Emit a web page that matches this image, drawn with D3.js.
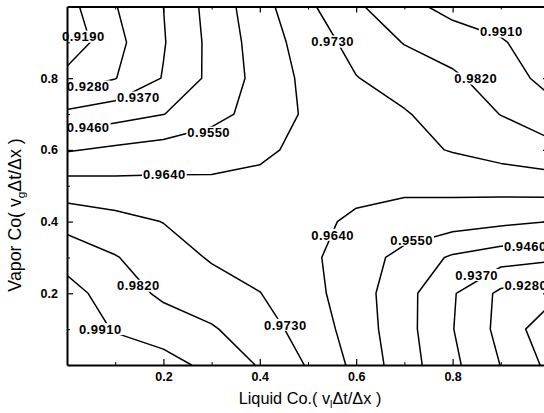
<!DOCTYPE html>
<html>
<head>
<meta charset="utf-8">
<script src="https://cdn.jsdelivr.net/npm/d3@7"></script>
<style>
  body { margin: 0; background: #fff; }
  svg { display: block; }
  text { font-family: "Liberation Sans", Arial, sans-serif; }
</style>
</head>
<body>
<svg id="chart" width="544" height="413"></svg>
<script>
// Grid of Courant numbers: liquid (columns) and vapor (rows, top to bottom)
const liquidCo = [0.0, 0.1, 0.2, 0.3, 0.4, 0.5, 0.6, 0.7, 0.8, 0.9, 1.0];
const vaporCo  = [1.0, 0.9, 0.8, 0.7, 0.6, 0.5, 0.4, 0.3, 0.2, 0.1, 0.0];

// Field value at each (vapor row, liquid column)
const rowV100 = [0.9160, 0.9276, 0.9370, 0.9493, 0.9606, 0.9714, 0.9807, 0.9882, 0.9940, 0.9970, 0.9990];
const rowV090 = [0.9130, 0.9254, 0.9364, 0.9484, 0.9590, 0.9681, 0.9761, 0.9824, 0.9862, 0.9900, 0.9970];
const rowV080 = [0.9220, 0.9277, 0.9375, 0.9482, 0.9580, 0.9663, 0.9727, 0.9768, 0.9805, 0.9863, 0.9940];
const rowV070 = [0.9392, 0.9425, 0.9458, 0.9517, 0.9588, 0.9653, 0.9688, 0.9723, 0.9771, 0.9822, 0.9873];
const rowV060 = [0.9543, 0.9567, 0.9588, 0.9609, 0.9630, 0.9654, 0.9680, 0.9706, 0.9735, 0.9765, 0.9793];
const rowV050 = [0.9676, 0.9667, 0.9663, 0.9654, 0.9654, 0.9660, 0.9655, 0.9654, 0.9664, 0.9672, 0.9682];
const rowV040 = [0.9789, 0.9758, 0.9728, 0.9703, 0.9679, 0.9654, 0.9631, 0.9611, 0.9590, 0.9569, 0.9550];
const rowV030 = [0.9875, 0.9825, 0.9771, 0.9722, 0.9689, 0.9656, 0.9600, 0.9518, 0.9448, 0.9410, 0.9389];
const rowV020 = [0.9945, 0.9865, 0.9804, 0.9768, 0.9732, 0.9670, 0.9591, 0.9491, 0.9379, 0.9260, 0.9224];
const rowV010 = [0.9970, 0.9903, 0.9866, 0.9829, 0.9769, 0.9693, 0.9600, 0.9492, 0.9373, 0.9254, 0.9130];
const rowV000 = [0.9990, 0.9970, 0.9945, 0.9885, 0.9813, 0.9723, 0.9617, 0.9501, 0.9390, 0.9278, 0.9170];
const field = [rowV100, rowV090, rowV080, rowV070, rowV060, rowV050,
               rowV040, rowV030, rowV020, rowV010, rowV000];

// Contour levels
const levels = [0.919, 0.928, 0.937, 0.946, 0.955, 0.964, 0.973, 0.982, 0.991];

// Inline contour labels: level index and (liquid, vapor) anchor
const labelLevel = [0, 1, 2, 3, 4, 5, 6, 7, 8, 7, 8, 5, 4, 3, 2, 1, 6];
const labelLiquid = [0.034, 0.044, 0.148, 0.044, 0.294, 0.202, 0.551, 0.848, 0.901,
                     0.148, 0.069, 0.551, 0.715, 0.951, 0.850, 0.952, 0.453];
const labelVapor  = [0.916, 0.777, 0.746, 0.662, 0.648, 0.531, 0.902, 0.799, 0.930,
                     0.221, 0.100, 0.363, 0.349, 0.332, 0.251, 0.223, 0.112];

// Axis ticks
const majorTicks = [0.2, 0.4, 0.6, 0.8];
const minorTicks = [0.1, 0.3, 0.5, 0.7, 0.9];

const svg = d3.select("#chart");
const x = d3.scaleLinear().domain([0, 1]).range([67, 549]);
const y = d3.scaleLinear().domain([0, 1]).range([365, 6.5]);

svg.append("defs").append("clipPath").attr("id", "plotArea")
  .append("rect")
  .attr("x", x(0)).attr("y", y(1))
  .attr("width", x(1) - x(0)).attr("height", y(0) - y(1));

// Contour geometry on the grid, mapped back to Courant-number space
const nx = liquidCo.length, ny = vaporCo.length;
const gx = d3.scaleLinear().domain([0.5, nx - 0.5]).range([liquidCo[0], liquidCo[nx - 1]]);
const gy = d3.scaleLinear().domain([0.5, ny - 0.5]).range([vaporCo[0], vaporCo[ny - 1]]);
const contours = d3.contours().size([nx, ny]).thresholds(levels)(field.flat());
const toScreen = d3.geoTransform({
  point(px, py) { this.stream.point(x(gx(px)), y(gy(py))); }
});
const path = d3.geoPath(toScreen);

svg.append("g").attr("clip-path", "url(#plotArea)")
  .selectAll("path").data(contours).join("path")
  .attr("d", path)
  .attr("fill", "none")
  .attr("stroke", "#000")
  .attr("stroke-width", 1.5)
  .attr("stroke-linejoin", "round");

// Labels sitting on the lines
const fmt = d3.format(".4f");
const labels = svg.append("g");
labelLevel.forEach((li, i) => {
  const g = labels.append("g")
    .attr("transform", `translate(${x(labelLiquid[i])},${y(labelVapor[i])})`);
  const bg = g.append("rect").attr("fill", "#fff");
  const t = g.append("text")
    .attr("text-anchor", "middle")
    .attr("dy", "0.36em")
    .attr("font-size", 13)
    .attr("font-weight", "bold")
    .attr("letter-spacing", 0.5)
    .text(fmt(levels[li]));
  const w = t.node().getComputedTextLength();
  bg.attr("x", -w / 2 - 1).attr("y", -6).attr("width", w + 2).attr("height", 12);
});

// Axes with inward ticks
function styleAxis(g) {
  g.select(".domain").attr("stroke-width", 2);
  g.selectAll(".tick line").attr("stroke-width", 1.2);
  g.selectAll("text").attr("font-size", 12.5).attr("font-weight", "bold")
    .attr("font-family", "Liberation Sans, Arial, sans-serif").attr("fill", "#000");
}
const tf = d3.format(".1f");

svg.append("g").attr("transform", `translate(0,${y(0)})`)
  .call(d3.axisBottom(x).tickValues(majorTicks).tickSizeInner(-6).tickSizeOuter(0)
    .tickPadding(7).tickFormat(tf)).call(styleAxis);
svg.append("g").attr("transform", `translate(0,${y(0)})`)
  .call(d3.axisBottom(x).tickValues(minorTicks).tickSizeInner(-3).tickSizeOuter(0)
    .tickFormat("")).call(g => g.select(".domain").remove());

svg.append("g").attr("transform", `translate(0,${y(1)})`)
  .call(d3.axisTop(x).tickValues(majorTicks).tickSizeInner(-6).tickSizeOuter(0)
    .tickFormat("")).call(styleAxis);
svg.append("g").attr("transform", `translate(0,${y(1)})`)
  .call(d3.axisTop(x).tickValues(minorTicks).tickSizeInner(-3).tickSizeOuter(0)
    .tickFormat("")).call(g => g.select(".domain").remove());

svg.append("g").attr("transform", `translate(${x(0)},0)`)
  .call(d3.axisLeft(y).tickValues(majorTicks).tickSizeInner(-6).tickSizeOuter(0)
    .tickPadding(9).tickFormat(tf)).call(styleAxis);
svg.append("g").attr("transform", `translate(${x(0)},0)`)
  .call(d3.axisLeft(y).tickValues(minorTicks).tickSizeInner(-3).tickSizeOuter(0)
    .tickFormat("")).call(g => g.select(".domain").remove());

svg.append("g").attr("transform", `translate(${x(1)},0)`)
  .call(d3.axisRight(y).tickValues(majorTicks).tickSizeInner(-6).tickSizeOuter(0)
    .tickFormat("")).call(styleAxis);

// Axis titles, sized to a set run length
function title(sel, main, sub, tail, runLength) {
  sel.attr("text-anchor", "middle").attr("font-size", 14).attr("fill", "#000");
  sel.append("tspan").text(main);
  const s = sel.append("tspan").attr("font-size", 10).attr("dy", 3).text(sub);
  sel.append("tspan").attr("dy", -3).text(tail);
  const len = sel.node().getComputedTextLength();
  const fs = 14 * runLength / len;
  sel.attr("font-size", fs);
  s.attr("font-size", fs * 0.65).attr("dy", fs * 0.22);
  sel.select("tspan:last-child").attr("dy", -fs * 0.22);
}

const xt = svg.append("text").attr("x", 310).attr("y", 404);
title(xt, "Liquid Co.( v", "l", "\u0394t/\u0394x )", 143);

const yt = svg.append("text").attr("transform", "translate(21,215) rotate(-90)");
title(yt, "Vapor Co( v", "g", "\u0394t/\u0394x )", 154);
</script>
</body>
</html>
